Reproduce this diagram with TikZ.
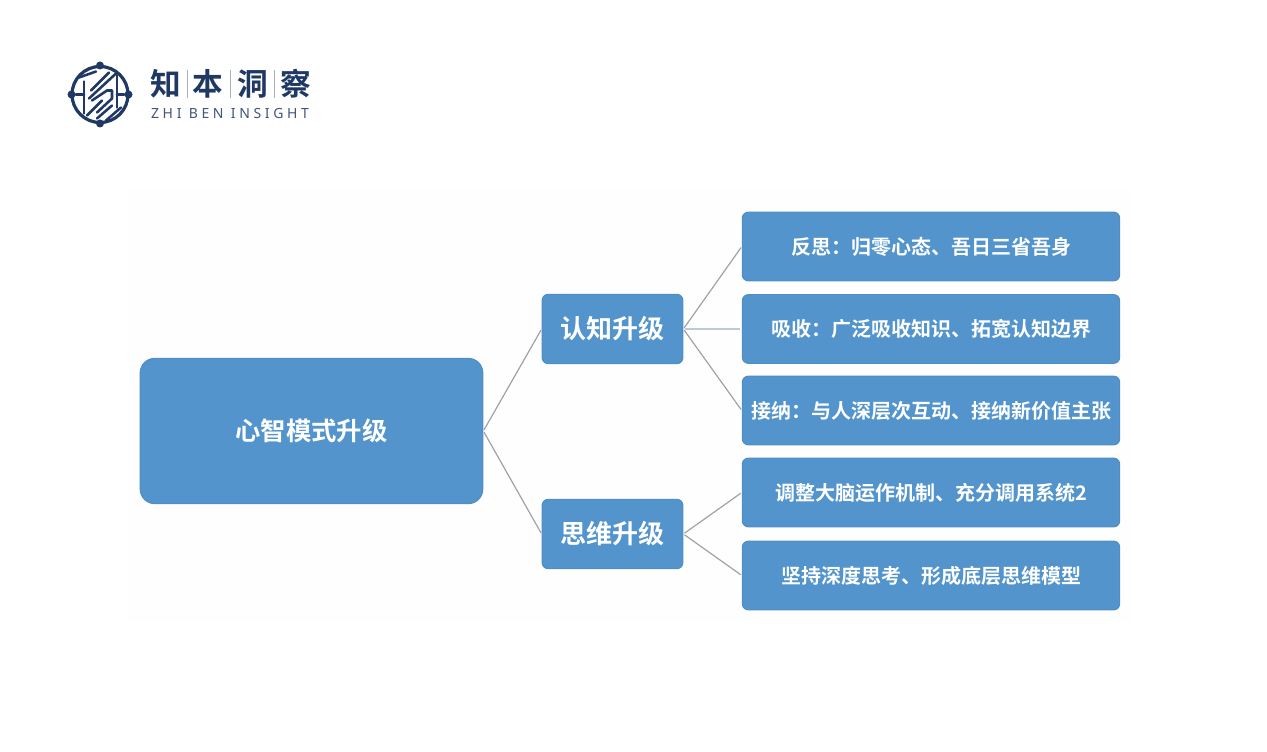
\documentclass[tikz,border=0pt]{standalone}
\usepackage{fontspec}
\setmainfont{Noto Sans CJK SC}[BoldFont={Noto Sans CJK SC Bold}]
\newfontfamily\latinlogo{Noto Sans}
\newcommand{\fwcolon}{\symbol{"FF1A}}
\definecolor{boxblue}{HTML}{5294CB}
\definecolor{boxedge}{HTML}{4F8FC5}
\definecolor{logoblue}{HTML}{1F3864}
\definecolor{linkgrey}{HTML}{9EA3A8}
\definecolor{linklight}{HTML}{B9CBDB}
\definecolor{softbg}{HTML}{FEFEFE}
\tikzset{
  x=0.75pt,y=-0.75pt,
  boxbase/.style={draw=boxedge,fill=boxblue,line width=0.8pt,text=white,font=\bfseries,inner sep=0pt,align=center},
  rootbox/.style={boxbase,rounded corners=11pt,minimum width=257pt,minimum height=109pt,font=\bfseries\fontsize{19}{23}\selectfont},
  midbox/.style={boxbase,rounded corners=4.5pt,minimum width=105.5pt,minimum height=52pt,font=\bfseries\fontsize{19.5}{23}\selectfont},
  leafbox/.style={boxbase,rounded corners=4.5pt,minimum width=283pt,minimum height=51.5pt,font=\bfseries\fontsize{15}{18}\selectfont},
  link/.style={draw=linkgrey,line width=0.9pt,shorten >=1pt,shorten <=1pt},
  linklt/.style={draw=linklight,line width=0.9pt,shorten >=1pt,shorten <=1pt},
  logoline/.style={draw=logoblue,line width=1.9pt,line cap=round,line join=round},
  logoring/.style={draw=logoblue,line width=2.4pt},
  logodot/.style={circle,fill=logoblue,inner sep=0pt,minimum size=6pt},
  logosep/.style={draw=logoblue!40,line width=0.7pt},
  logocjk/.style={text=logoblue,inner sep=0pt,font=\bfseries\fontsize{23}{26}\selectfont},
}
\begin{document}
\begin{tikzpicture}
\useasboundingbox (0,0) rectangle (1267,752);
\fill[white] (0,0) rectangle (1267,752);
\fill[softbg] (128,190) rectangle (1132,622);
% main tree
\node[rootbox] (root) at (311.5,431) {心智模式升级};
\node[midbox] (cog) at (612.5,329) {认知升级};
\node[midbox] (think) at (612.5,534) {思维升级};
\node[leafbox] (l1) at (931,246.5) {反思\fwcolon 归零心态、吾日三省吾身};
\node[leafbox] (l2) at (931,329) {吸收\fwcolon 广泛吸收知识、拓宽认知边界};
\node[leafbox] (l3) at (931,410.5) {接纳\fwcolon 与人深层次互动、接纳新价值主张};
\node[leafbox] (l4) at (931,492.5) {调整大脑运作机制、充分调用系统2};
\node[leafbox] (l5) at (931,575.5) {坚持深度思考、形成底层思维模型};
\draw[link] (root.east) -- (cog.west);
\draw[link] (root.east) -- (think.west);
\draw[link] (cog.east) -- (l1.west);
\draw[linklt] (cog.east) -- (l2.west);
\draw[link] (cog.east) -- (l3.west);
\draw[link] (think.east) -- (l4.west);
\draw[link] (think.east) -- (l5.west);
% logo emblem
\begin{scope}[shift={(100,94.5)}]
  \draw[logoring] (0,0) circle[radius=21pt];
  \node[logodot] (dn) at (0,-29) {};
  \node[logodot] (ds) at (0,29) {};
  \node[logodot] (de) at (28.5,0) {};
  \node[logodot] (dw) at (-28.5,0) {};
  \draw[logoline] (dw) -- (-16,0);
  \draw[logoline] (de) -- (17,0);
  \draw[logoline] (-16,-13) -- (-16,19);
  \draw[logoline] (17,-19) -- (17,13);
  \draw[logoline] (-21,-17) -- (-4,-23);
  \draw[logoline] (-9,-4) -- (9,-22);
  \draw[logoline] (-11,4) -- (16,-21);
  \draw[logoline] (-8,6) -- (7,-4) -- (12,-4) -- (12,4) -- (-3,18);
  \draw[logoline] (-13,21) -- (2,6);
  \draw[logoline] (-3,24) -- (12,11);
  \draw[logoline] (6,26) -- (21,13);
\end{scope}
% logo wordmark
\node[logocjk] (w1) at (165.5,84) {知};
\node[logocjk] (w2) at (208,84) {本};
\node[logocjk] (w3) at (253,84) {洞};
\node[logocjk] (w4) at (296,84) {察};
\draw[logosep] (187,70) -- (187,98);
\draw[logosep] (230.5,70) -- (230.5,98);
\draw[logosep] (274.5,70) -- (274.5,98);
\node[text=logoblue!85,inner sep=0pt,font=\latinlogo\fontsize{10.5}{12}\selectfont] (sub) at (230,113.5) {\addfontfeature{LetterSpace=26}ZHI BEN INSIGHT};
\end{tikzpicture}
\end{document}
